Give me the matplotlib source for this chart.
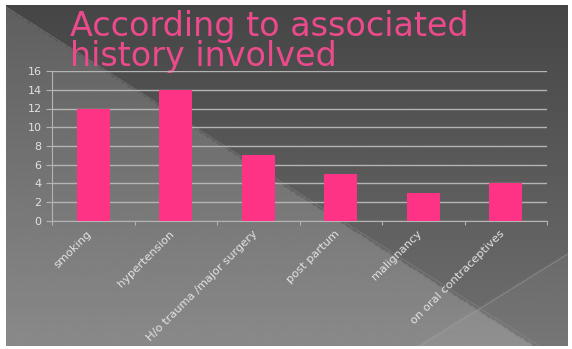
import numpy as np
import matplotlib
matplotlib.use("Agg")
import matplotlib.pyplot as plt

# data
categories = ["smoking", "hypertension", "H/o trauma /major surgery",
              "post partum", "malignancy", "on oral contraceptives"]
counts = [12, 14, 7, 5, 3, 4]
yticks = [0, 2, 4, 6, 8, 10, 12, 14, 16]
title_lines = ["According to associated", "history involved"]

W, H = 572, 349
BAR = "#ff3385"
TITLE_C = "#ec4a8c"
TXT = "#e2e2e2"

fig = plt.figure(figsize=(W / 100, H / 100), dpi=100)
fig.patch.set_facecolor("white")

# slide background (pixel coords)
bg = fig.add_axes([0, 0, 1, 1])
bg.set_xlim(0, W)
bg.set_ylim(H, 0)
bg.axis("off")
x0, y0, x1, y1 = 6, 5, 568, 346
xx, yy = np.meshgrid(np.linspace(x0, x1, 280), np.linspace(y0, y1, 170))
v = 0.27 + 0.17 * (yy / H)
below = yy > 7 + 0.643 * (xx - 6)
v = v + 0.1 * below
corner = yy > 345 - 0.62 * (xx - 420)
v = v + 0.025 * corner
bg.imshow(v, cmap="gray", vmin=0, vmax=1, extent=[x0, x1, y1, y0],
          aspect="auto", interpolation="bilinear", zorder=0)
bg.plot([6, 538], [7, 345], color="#9a9a9a", lw=0.6, alpha=0.4, zorder=1)
bg.plot([420, 568], [346, 254], color="#a8a8a8", lw=0.6, alpha=0.5, zorder=1)
for i, line in enumerate(title_lines):
    bg.text(70, 36 + 30 * i, line, color=TITLE_C, fontsize=24,
            family="DejaVu Sans", fontweight="normal", va="baseline", ha="left")

# chart
ax = fig.add_axes([52 / W, 1 - 221 / H, 495 / W, 150 / H])
ax.patch.set_alpha(0)
x = np.arange(len(categories))
ax.bar(x, counts, width=0.4, color=BAR, zorder=3)
ax.set_xlim(-0.5, len(categories) - 0.5)
ax.set_ylim(0, 16)
ax.set_yticks(yticks)
ax.yaxis.grid(True, color="#b4b4b4", lw=1.0, zorder=1)
for s in ["top", "right"]:
    ax.spines[s].set_visible(False)
ax.spines["left"].set_color("#b4b4b4")
ax.spines["bottom"].set_color("#b4b4b4")
ax.tick_params(axis="y", colors="#b4b4b4", labelcolor=TXT, labelsize=8, length=4)
ax.set_xticks(np.arange(-0.5, len(categories), 1.0))
ax.set_xticklabels([])
ax.tick_params(axis="x", colors="#b4b4b4", length=3)
for i, c in enumerate(categories):
    ax.annotate(c, xy=(i, 0), xycoords=("data", "axes fraction"),
                xytext=(-2, -8), textcoords="offset points",
                rotation=45, rotation_mode="anchor", ha="right", va="center",
                color=TXT, fontsize=8.2, family="DejaVu Sans")

fig.savefig("out.png", dpi=100)
